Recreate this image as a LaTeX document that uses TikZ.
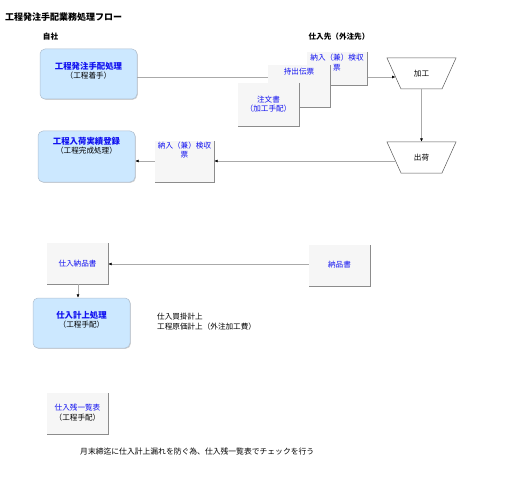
\documentclass[tikz,border=0pt]{standalone}
\usepackage{fontspec}
\setmainfont{Noto Sans CJK JP}
\usetikzlibrary{arrows.meta}
\definecolor{boxblue}{HTML}{CCE8FF}
\definecolor{boxedge}{HTML}{B0C0D0}
\definecolor{docfill}{HTML}{F6F6F6}
\definecolor{docedge}{HTML}{8C8C8C}
\definecolor{txtblue}{HTML}{1010F0}
\definecolor{linegray}{HTML}{AAAAAA}
\tikzset{
  lbl/.style={font=\fontsize{7.6}{9}\selectfont, inner sep=0pt, align=center},
  blbl/.style={font=\fontsize{8.4}{10}\selectfont\bfseries, inner sep=0pt, text=txtblue},
  procbox/.style={rounded corners=5pt, fill=boxblue, draw=boxedge, line width=0.5pt},
  procshadow/.style={rounded corners=5pt, fill=gray!35, draw=none},
  docshade/.style={draw=docedge, line width=0.9pt},
  conn/.style={draw=linegray, line width=0.55pt, -{Latex[length=3.5pt,width=3pt,color=black]}},
  trap/.style={draw=black!65, line width=0.5pt, fill=white},
}
\newcommand{\docnode}[5]{% name, x1,y1, x2,y2
  \fill[docfill] (#2,#3) rectangle (#4,#5);
  \draw[docshade] (#4,#3) -- (#4,#5) -- (#2,#5);
  \node[inner sep=0pt, minimum width={#4-#2}, minimum height={#5-#3}] (#1) at ({(#2+#4)/2},{(#3+#5)/2}) {};
}
\newcommand{\procnode}[5]{%
  \fill[procshadow] (#2+0.8,#3+0.8) rectangle (#4+0.8,#5+0.8);
  \draw[procbox] (#2,#3) rectangle (#4,#5);
  \node[inner sep=0pt, minimum width={#4-#2}, minimum height={#5-#3}] (#1) at ({(#2+#4)/2},{(#3+#5)/2}) {};
}
\begin{document}
\begin{tikzpicture}[x=1pt,y=-1pt]
\useasboundingbox (0,0) rectangle (532,497);
\fill[white] (0,0) rectangle (532,497);

% headings
\node[anchor=west, font=\fontsize{9}{10}\selectfont\bfseries, inner sep=0pt] (title) at (5,17) {工程発注手配業務処理フロー};
\node[lbl, font=\fontsize{7.6}{9}\selectfont\bfseries] (jisha) at (50.5,37) {自社};
\node[lbl, font=\fontsize{7.6}{9}\selectfont\bfseries] (shiiresaki) at (339,37) {仕入先（外注先）};

% trapezoids
\draw[trap] (387,58) -- (456,58) -- (442,89) -- (401,89) -- cycle;
\node[lbl, minimum width=41pt, minimum height=31pt] (kako) at (421.5,73.5) {加工};
\coordinate (kakoin) at (395.5,77);
\draw[trap] (387,142) -- (456,142) -- (442,173) -- (401,173) -- cycle;
\node[lbl, minimum width=41pt, minimum height=31pt] (shukka) at (421.5,157.5) {出荷};
\coordinate (shukkaout) at (395.5,161);

% process boxes
\procnode{hacchu}{40}{49}{137}{99}
\node[blbl] (t1) at (88.5,66) {工程発注手配処理};
\node[lbl] (t1b) at (88.5,75.5) {（工程着手）};

\procnode{nyuka}{38}{131}{135}{182}
\node[blbl] (t2) at (86.5,141) {工程入荷実績登録};
\node[lbl] (t2b) at (86.5,151) {（工程完成処理）};

\procnode{keijo}{33}{298}{130}{348}
\node[blbl] (t3) at (81.5,315) {仕入計上処理};
\node[lbl] (t3b) at (81.5,325) {（工程手配）};

% connectors (drawn under documents)
\draw[conn] (hacchu.east |- kakoin) -- (kakoin);
\draw[conn] (kako.south) -- (shukka.north);

% documents
\docnode{nyunyu}{307}{52}{367}{85}
\node[lbl, text=txtblue] at (337,58) {納入（兼）検収};
\node[lbl, text=txtblue] at (337,68) {票};
\docnode{mochidashi}{268}{65}{330}{107}
\node[lbl, text=txtblue] at (299,72) {持出伝票};
\docnode{chumon}{238}{83}{299}{126}
\node[lbl, text=txtblue] at (268.5,100) {注文書};
\node[lbl, text=txtblue] at (268.5,109) {（加工手配）};

\docnode{kenshu}{155}{141}{214}{182}
\node[lbl, text=txtblue] at (184.5,146) {納入（兼）検収};
\node[lbl, text=txtblue] at (184.5,155) {票};

\docnode{shiirenohin}{47}{243}{108}{284}
\node[lbl, text=txtblue] at (77.5,264) {仕入納品書};
\docnode{nohin}{309}{245}{370}{286}
\node[lbl, text=txtblue] at (339.5,265) {納品書};

\docnode{zan}{47}{393}{108}{434}
\node[lbl, text=txtblue] at (77.5,408) {仕入残一覧表};
\node[lbl] at (77.5,417.5) {（工程手配）};

\draw[conn] (shukkaout) -- (kenshu.east |- shukkaout);
\draw[conn] (kenshu.west |- shukkaout) -- (nyuka.east |- shukkaout);
\draw[conn] (nohin.west |- 0,264) -- (shiirenohin.east |- 0,264);
\draw[conn] (shiirenohin.south -| 78,0) -- (keijo.north -| 78,0);

% notes
\node[lbl, anchor=west] (note1) at (157,317) {仕入買掛計上};
\node[lbl, anchor=west] (note2) at (157,327) {工程原価計上（外注加工費）};
\node[lbl, anchor=west, font=\fontsize{7.8}{9}\selectfont] (note3) at (80,451) {月末締迄に仕入計上漏れを防ぐ為、仕入残一覧表でチェックを行う};
\end{tikzpicture}
\end{document}
